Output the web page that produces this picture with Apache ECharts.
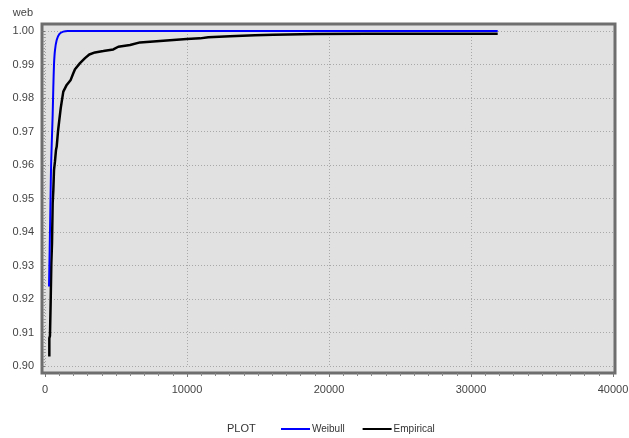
<!DOCTYPE html>
<html>
<head>
<meta charset="utf-8">
<style>
  html, body { margin: 0; padding: 0; background: #ffffff; }
  #chart { width: 629px; height: 438px; }
</style>
<script src="https://cdn.jsdelivr.net/npm/echarts@6/dist/echarts.min.js"></script>
</head>
<body>
<div id="chart"></div>
<script>
// Fitted Weibull CDF
const weibullX = [282, 330, 390, 430, 480, 540, 585, 634, 704, 824, 1007, 1289, 1600, 31880];
const weibullY = [0.9237, 0.935, 0.950, 0.960, 0.967, 0.975, 0.983, 0.990, 0.9943, 0.9973, 0.9991, 0.9998, 1.0, 1.0];

// Empirical CDF
const empiricalX = [305, 305, 350, 399, 446, 493, 540, 587, 634, 700, 775, 824, 915, 1007, 1106, 1200, 1289,
  1528, 1810, 1993, 2113, 2465, 2817, 3120, 3521, 4106, 4810, 5162, 5986, 6690, 8331, 9979,
  10915, 11500, 13028, 14789, 16080, 19014, 22655, 31880];
const empiricalY = [0.9028, 0.9083, 0.9090, 0.9192, 0.9307, 0.9366, 0.9486, 0.9525, 0.9585, 0.9610, 0.9645, 0.9655,
  0.9700, 0.9734, 0.9769, 0.9795, 0.9819, 0.9839, 0.9854, 0.9874, 0.9886, 0.9904, 0.9919, 0.9930,
  0.9936, 0.9940, 0.9945, 0.9953, 0.9958, 0.9966, 0.9971, 0.9976, 0.9978, 0.9981, 0.9984, 0.9987,
  0.9989, 0.9991, 0.9992, 0.9992];

const seriesNames = ['Weibull', 'Empirical'];
const xTicks = { min: 0, max: 40000, step: 10000 };
const yTicks = { min: 0.90, max: 1.00, step: 0.01 };

const pairs = (xs, ys) => xs.map((x, i) => [x, ys[i]]);

const chart = echarts.init(document.getElementById('chart'), null, { renderer: 'canvas' });

const labelStyle = { color: '#444', fontSize: 11, fontFamily: 'Liberation Sans, Arial, sans-serif' };

chart.setOption({
  animation: false,
  backgroundColor: '#ffffff',
  grid: {
    left: 45, right: 16, top: 31, bottom: 72,
    outerBoundsMode: 'none',
    show: false
  },
  graphic: [
    {
      // plot panel with its dark frame
      type: 'rect', z: -10, silent: true,
      shape: { x: 42, y: 24, width: 573, height: 349 },
      style: { fill: '#e1e1e1', stroke: '#6e6e6e', lineWidth: 3 }
    },
    {
      type: 'text', left: 227, top: 423, silent: true,
      style: { text: 'PLOT', fill: '#333', font: '11px Liberation Sans, Arial, sans-serif' }
    }
  ],
  legend: {
    data: seriesNames,
    left: 276, top: 419,
    icon: 'rect',
    itemWidth: 29, itemHeight: 2,
    itemGap: 18,
    textStyle: { color: '#333', fontSize: 10, fontFamily: 'Liberation Sans, Arial, sans-serif', padding: [0, 0, 0, -3] }
  },
  xAxis: {
    type: 'value',
    min: xTicks.min, max: xTicks.max, interval: xTicks.step,
    offset: 7,
    axisLine: { show: false },
    axisTick: { show: true, length: 4, lineStyle: { color: '#777' } },
    minorTick: { show: true, splitNumber: 10, length: 3, lineStyle: { color: '#888' } },
    axisLabel: Object.assign({ margin: 11, formatter: v => String(v) }, labelStyle),
    splitLine: { show: true, lineStyle: { color: '#a8a8a8', type: [1, 2], width: 1 } }
  },
  yAxis: {
    type: 'value',
    min: yTicks.min, max: yTicks.max, interval: yTicks.step,
    offset: 3,
    name: 'web',
    nameLocation: 'end',
    nameGap: 13,
    nameTextStyle: { color: '#444', fontSize: 11, fontFamily: 'Liberation Sans, Arial, sans-serif', align: 'right', padding: [0, 12, 0, 0] },
    axisLine: { show: false },
    axisTick: { show: true, length: 4, lineStyle: { color: '#777' } },
    minorTick: { show: true, splitNumber: 10, length: 2, lineStyle: { color: '#999' } },
    axisLabel: Object.assign({ margin: 8, formatter: v => v.toFixed(2) }, labelStyle),
    splitLine: { show: true, lineStyle: { color: '#a8a8a8', type: [1, 2], width: 1 } }
  },
  series: [
    {
      name: seriesNames[1],
      type: 'line',
      data: pairs(empiricalX, empiricalY),
      symbol: 'none',
      z: 2,
      lineStyle: { color: '#000000', width: 2.5 },
      itemStyle: { color: '#000000' }
    },
    {
      name: seriesNames[0],
      type: 'line',
      data: pairs(weibullX, weibullY),
      symbol: 'none',
      smooth: 0.2,
      z: 3,
      lineStyle: { color: '#0000ff', width: 2 },
      itemStyle: { color: '#0000ff' }
    }
  ]
});
</script>
</body>
</html>
